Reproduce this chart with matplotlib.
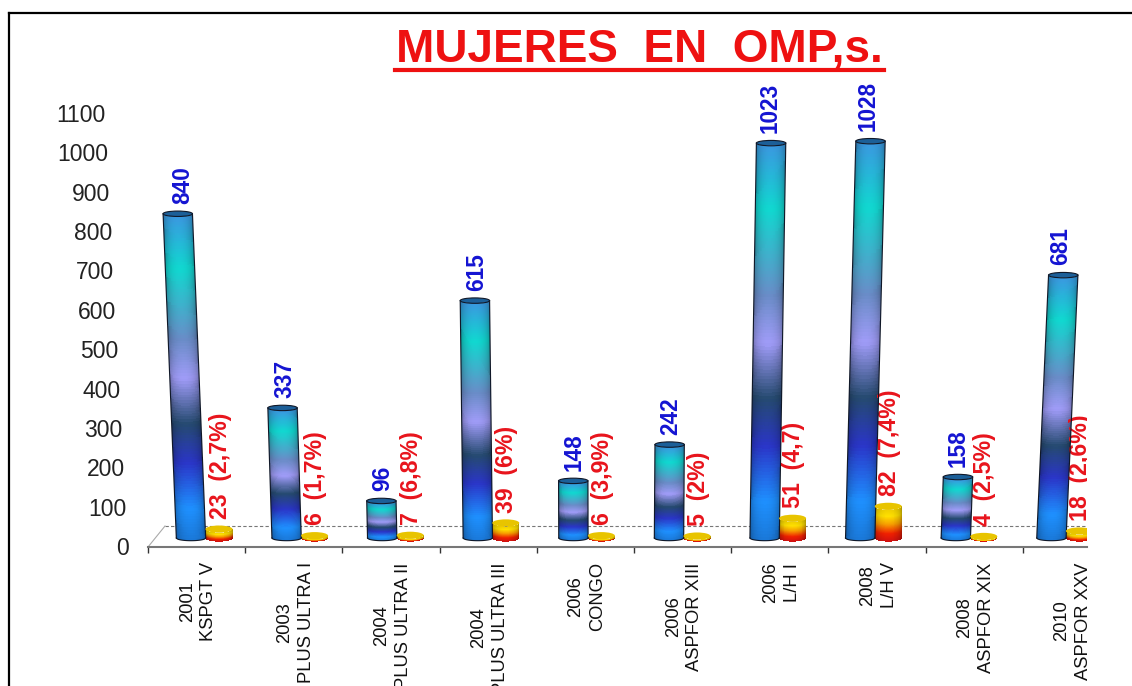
# %%
import numpy as np
import matplotlib
matplotlib.use('Agg')
import matplotlib.pyplot as plt
from matplotlib.lines import Line2D
from matplotlib.patches import Ellipse
from matplotlib.transforms import Bbox

plt.rcParams['font.family'] = ['Liberation Sans', 'DejaVu Sans']

W, H = 1132, 686

categories = ['2001\nKSPGT V', '2003\nPLUS ULTRA I', '2004\nPLUS ULTRA II', '2004\nPLUS ULTRA III',
              '2006\nCONGO', '2006\nASPFOR XIII', '2006\nL/H I', '2008\nL/H V',
              '2008\nASPFOR XIX', '2010\nASPFOR XXV']
total = [840, 337, 96, 615, 148, 242, 1023, 1028, 158, 681]
women = [23, 6, 7, 39, 6, 5, 51, 82, 4, 18]
share_labels = ['(2,7%)', '(1,7%)', '(6,8%)', '(6%)', '(3,9%)', '(2%)', '(4,7)', '(7,4%)', '(2,5%)', '(2,6%)']
y_ticks = [0, 100, 200, 300, 400, 500, 600, 700, 800, 900, 1000, 1100]

# colour stops, bottom to top of each cylinder
BLUE_STOPS = [(0.0, '#1a78d8'), (0.10, '#1e90ff'), (0.24, '#2a35c8'), (0.36, '#254a70'),
              (0.50, '#a09cf8'), (0.62, '#6a8cc8'), (0.84, '#10d8d0'), (1.0, '#3a98e0')]
HEAT_STOPS = [(0.0, '#d01010'), (0.25, '#f02000'), (0.55, '#f8a000'), (0.8, '#ffe000'), (1.0, '#f0d000')]

# pixel layout
AX_L, AX_R, AX_T, AX_B = 148, 1087, 60, 547
BAR_SP = 95.6        # px between cylinders
BAR0 = 191           # px of first cylinder base
Y0 = 538             # px of value 0 on the cylinders
PX_PER = 0.386       # px per unit
TICK_SP = 97.2
HALF_W = 14.7 / BAR_SP
HEAT_W = 13.5 / BAR_SP
HEAT_DX = 28 / BAR_SP
CAP = 2.7 / PX_PER


def px_x(px):
    return (px - BAR0) / BAR_SP


def stop_colors(stops, t):
    pos = [s[0] for s in stops]
    rgb = np.array([matplotlib.colors.to_rgb(s[1]) for s in stops])
    return np.stack([np.interp(t, pos, rgb[:, k]) for k in range(3)], axis=-1)


def cylinder(ax, x0, value, half_w, stops, lean=0.0, cap_color='#1c5f98', edge='#101828', lw=0.8, cap=CAP):
    u = np.linspace(-1, 1, 31)
    t = np.linspace(0, 1, 121)
    U, T = np.meshgrid(u, t)
    X = x0 + U * half_w + lean * T
    Y = value * T - cap * np.sqrt(1 - U ** 2)
    um = 0.5 * (u[:-1] + u[1:])
    tm = 0.5 * (t[:-1] + t[1:])
    shade = 0.5 + 0.5 * np.sqrt(1 - (um * 0.98) ** 2) ** 0.7
    C = stop_colors(stops, tm)[:, None, :] * shade[None, :, None]
    ax.pcolormesh(X, Y, np.clip(C, 0, 1), shading='flat', antialiased=False, linewidth=0, zorder=3)
    if edge:
        ax.plot(X[:, 0], Y[:, 0], color=edge, lw=lw, zorder=4)
        ax.plot(X[:, -1], Y[:, -1], color=edge, lw=lw, zorder=4)
        ax.plot(X[0], Y[0], color=edge, lw=lw, zorder=4)
    ax.add_patch(Ellipse((x0 + lean, value), 2 * half_w, 2 * cap, facecolor=cap_color,
                         edgecolor=edge if edge else 'none', lw=lw, zorder=5))


fig = plt.figure(figsize=(W / 100, H / 100), dpi=100)
pos = [AX_L / W, 1 - AX_B / H, (AX_R - AX_L) / W, (AX_B - AX_T) / H]
ax = fig.add_axes(pos)
ax.set_xlim(px_x(AX_L), px_x(AX_R))
ax.set_ylim((Y0 - AX_B) / PX_PER, (Y0 - AX_T) / PX_PER)
ax.patch.set_alpha(0)

for i, (v, w) in enumerate(zip(total, women)):
    lean = (i - 4.28) * 3.85e-5 * v
    cylinder(ax, i, v, HALF_W, BLUE_STOPS, lean=lean)
    cylinder(ax, i + HEAT_DX, w, HEAT_W, HEAT_STOPS, cap_color='#e8c400', edge=None, cap=3.6 / PX_PER)
    ax.annotate(str(v), (i + 0.7 * lean, v), xytext=(0.7, 7), textcoords='offset points', rotation=90,
                ha='center', va='bottom', color='#1414d2', fontsize=16.3, fontweight='bold',
                annotation_clip=False)
    ax.annotate(f'{w}  {share_labels[i]}', (i + HEAT_DX, w), xytext=(0.8, 7.5), textcoords='offset points',
                rotation=90, ha='center', va='bottom', color='#e8141c', fontsize=16.7, fontweight='bold',
                clip_on=True)

# floor of the 3d box
ax.plot([px_x(165), px_x(AX_R)], [(Y0 - 526) / PX_PER] * 2, color='#777777', lw=0.8, ls=(0, (3, 2)), zorder=2)
ax.plot([px_x(AX_L), px_x(165)], [(Y0 - AX_B) / PX_PER, (Y0 - 526) / PX_PER], color='#aaaaaa', lw=0.8, zorder=2)

for side in ['top', 'left', 'right']:
    ax.spines[side].set_visible(False)
ax.spines['bottom'].set_color('#777777')
ax.spines['bottom'].set_linewidth(1.5)
ax.set_yticks([])

edge_ticks = [px_x(AX_L + TICK_SP * k) for k in range(10)]
mid_ticks = [px_x(AX_L + TICK_SP * (k + 0.515)) for k in range(10)]
ax.set_xticks(edge_ticks)
ax.set_xticklabels([])
ax.tick_params(axis='x', which='major', length=4, width=1, color='#333333')
ax.set_xticks(mid_ticks, minor=True)
ax.set_xticklabels(categories, minor=True, rotation=90, fontsize=13.2, va='top', ha='center', linespacing=1.35,
                   color='#111111')
ax.tick_params(axis='x', which='minor', length=0, pad=11)
clip_box = Bbox.from_extents(0, 0, 1088, H)
for lab in ax.get_xticklabels(minor=True):
    lab.set_clip_on(True)
    lab.set_clip_box(clip_box)

# value axis sits on the back wall, so it has its own scale
wall = ax.twinx()
wall.set_position(pos)
scale = (546 - 113) / 1100
wall.set_ylim((546 - AX_B) / scale, (546 - AX_T) / scale)
wall.yaxis.tick_left()
wall.set_yticks(y_ticks)
wall.set_yticklabels([str(v) for v in y_ticks], fontsize=16.5, color='#222222')
for sp in wall.spines.values():
    sp.set_visible(False)
wall.tick_params(axis='y', length=0)
for tick, v in zip(wall.yaxis.get_major_ticks(), y_ticks):
    tick.set_pad((AX_L - (129 - 0.21 * v / 10)) * 0.72)

fig.text(639.5 / W, 1 - 50 / H, 'MUJERES  EN  OMP,s.', color='#ee1111', fontsize=33.0, fontweight='bold',
         ha='center', va='center')
fig.add_artist(Line2D([395 / W, 884 / W], [1 - 70 / H] * 2, color='#ee1111', lw=3))

# page frame
fig.add_artist(Line2D([9 / W, 9 / W], [0, 1 - 13 / H], color='black', lw=1.6))
fig.add_artist(Line2D([9 / W, 1], [1 - 13 / H] * 2, color='black', lw=1.6))

fig.savefig('out.png', dpi=100)
